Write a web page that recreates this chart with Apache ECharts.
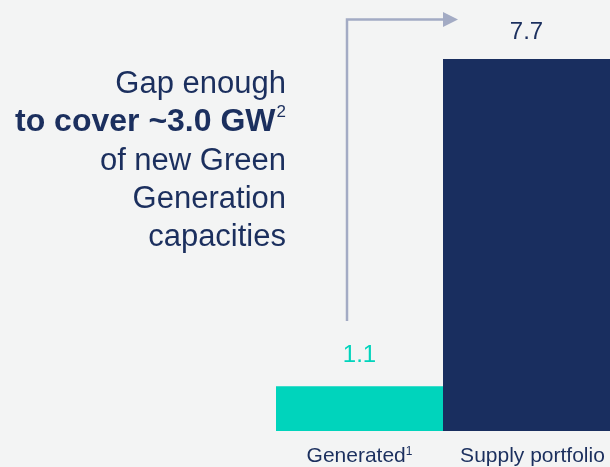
<!DOCTYPE html>
<html>
<head>
<meta charset="utf-8">
<script src="https://cdn.jsdelivr.net/npm/echarts@6/dist/echarts.min.js"></script>
<style>
html,body{margin:0;padding:0;background:#f3f4f4;}
#chart{width:610px;height:467px;}
</style>
</head>
<body>
<div id="chart"></div>
<script>
var categories = ['Generated', 'Supply portfolio'];
var categorySup = ['1', ''];
var values = [1.1, 7.7];
var barColors = ['#00d4bc', '#192e5f'];
var labelColors = ['#00d4bc', '#1b2f5e'];
var noteLines = ['Gap enough', 'to cover ~3.0 GW', 'of new Green', 'Generation', 'capacities'];

var NAVY = '#1b2f5e';
var FONT = '"Liberation Sans", Arial, sans-serif';
var chart = echarts.init(document.getElementById('chart'));

var noteY = [84, 122, 161, 199, 237];
var graphics = noteLines.map(function (t, i) {
  if (i === 1) {
    return {
      type: 'text', x: 286, y: noteY[i],
      style: {
        text: '{b|' + t + '}{s|2}',
        align: 'right', verticalAlign: 'middle',
        rich: {
          b: {fontSize: 32, fontWeight: 'bold', fontFamily: FONT, fill: NAVY, lineHeight: 36},
          s: {fontSize: 17, fontFamily: FONT, fill: NAVY, verticalAlign: 'top', lineHeight: 36, padding: [0,0,0,1]}
        }
      }
    };
  }
  return {
    type: 'text', x: 286, y: noteY[i],
    style: {text: t, align: 'right', verticalAlign: 'middle', fontSize: 31, fontFamily: FONT, fill: NAVY}
  };
});
graphics.push({
  type: 'polyline',
  shape: {points: [[347, 321], [347, 19.5], [445, 19.5]]},
  style: {stroke: '#a3abc4', lineWidth: 2.5, fill: null}
});
graphics.push({
  type: 'polygon',
  shape: {points: [[443, 12], [458, 19.5], [443, 27]]},
  style: {fill: '#a3abc4'}
});

chart.setOption({
  backgroundColor: '#f3f4f4',
  animation: false,
  grid: {left: 276, right: 0, top: 59, bottom: 36},
  xAxis: {
    type: 'category',
    data: categories.map(function (c, i) {
      return {
        value: categorySup[i] ? c + '{s|' + categorySup[i] + '}' : c,
        textStyle: i === 1 ? {padding: [0, 0, 0, 12]} : {}
      };
    }),
    axisLine: {show: false}, axisTick: {show: false},
    axisLabel: {
      margin: 15, fontSize: 21, color: NAVY, fontFamily: FONT, interval: 0,
      rich: {s: {fontSize: 12, color: NAVY, fontFamily: FONT, verticalAlign: 'top'}}
    }
  },
  yAxis: {type: 'value', show: false, min: 0.2, max: 7.7, splitLine: {show: false}},
  series: [{
    type: 'bar',
    barWidth: '100%',
    barCategoryGap: 0,
    data: values.map(function (v, i) {
      return {
        value: v,
        itemStyle: {color: barColors[i]},
        label: {color: labelColors[i], distance: i === 0 ? 19 : 15}
      };
    }),
    label: {show: true, position: 'top', fontSize: 24, fontFamily: FONT}
  }],
  graphic: graphics
});
</script>
</body>
</html>
